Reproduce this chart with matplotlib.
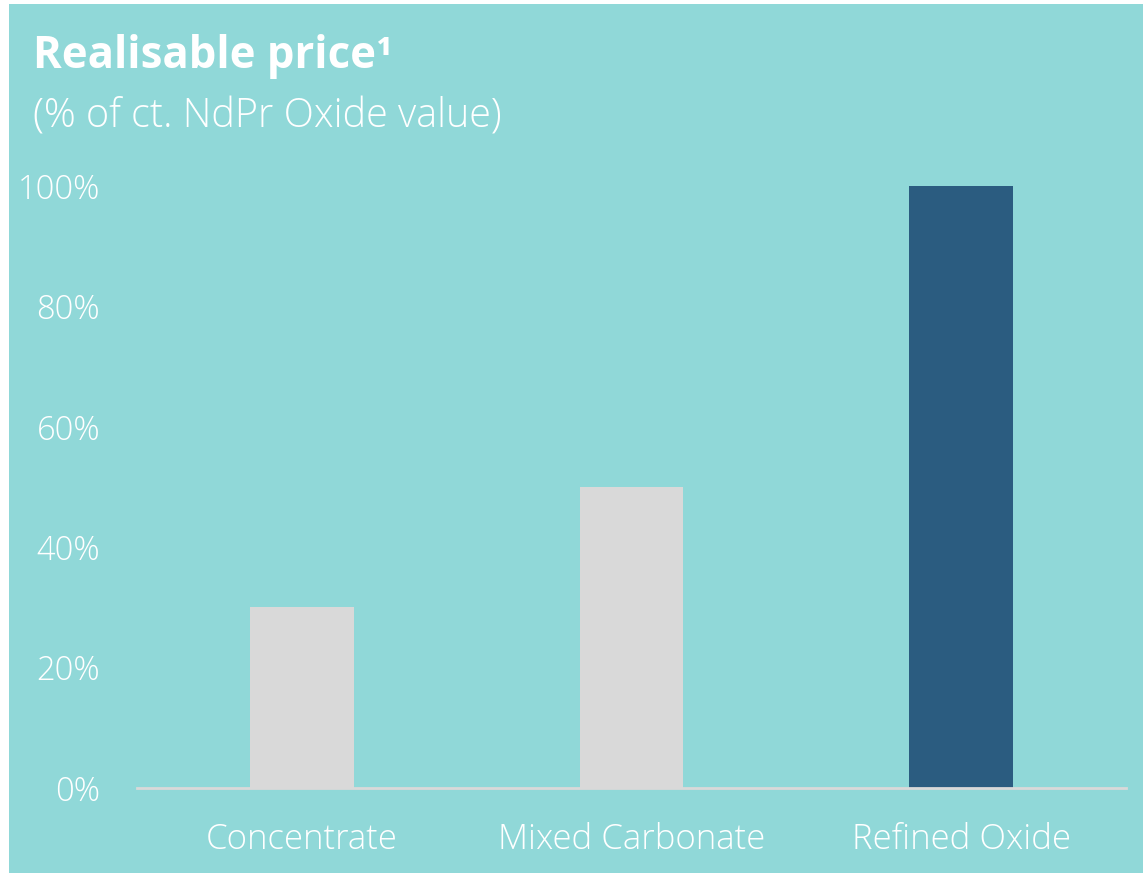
import matplotlib.pyplot as plt
from matplotlib.patches import Rectangle

# realisable price by product stage, % of NdPr oxide value
categories = ['Concentrate', 'Mixed Carbonate', 'Refined Oxide']
values = [30, 50, 100]
bar_colors = ['#D9D9D9', '#D9D9D9', '#2B5C80']
yticks = [0, 20, 40, 60, 80, 100]

bg = '#90D8D8'
W, H = 1143, 873

fig = plt.figure(figsize=(W / 100, H / 100), dpi=100, facecolor='white')

# teal panel behind everything
fig.patches.append(Rectangle((9 / W, 0), 1 - 9 / W, (H - 4) / H,
                             transform=fig.transFigure, facecolor=bg,
                             edgecolor='none', zorder=-1))

ax = fig.add_axes([137 / W, (H - 788) / H, (1126 - 137) / W, (788 - 186) / H])
ax.set_facecolor('none')
ax.set_zorder(1)

x = range(len(categories))
ax.bar(x, values, width=0.315, color=bar_colors, zorder=2)

ax.set_xlim(-0.5, 2.5)
ax.set_ylim(0, 100)
ax.set_yticks(yticks)
ax.set_yticklabels([f'{t}%' for t in yticks])
ax.set_xticks(list(x))
ax.set_xticklabels(categories)

for s in ['top', 'right', 'left']:
    ax.spines[s].set_visible(False)
ax.spines['bottom'].set_color('#D9D9D9')
ax.spines['bottom'].set_linewidth(2)

ax.tick_params(axis='both', length=0, colors='white')
ax.tick_params(axis='y', pad=26.5, labelsize=23.5)
ax.tick_params(axis='x', pad=25, labelsize=25)
for lab in ax.get_yticklabels() + ax.get_xticklabels():
    lab.set_fontfamily('Open Sans')
    lab.set_fontweight('light')

fig.text(33 / W, 1 - 68 / H, 'Realisable price\u00b9', color='white',
         fontsize=31.5, fontweight='bold', family='Open Sans', va='baseline')
fig.text(33 / W, 1 - 127 / H, '(% of ct. NdPr Oxide value)', color='white',
         fontsize=28.5, fontweight='light', family='Open Sans', va='baseline')

fig.savefig('out.png', dpi=100, facecolor='white')
